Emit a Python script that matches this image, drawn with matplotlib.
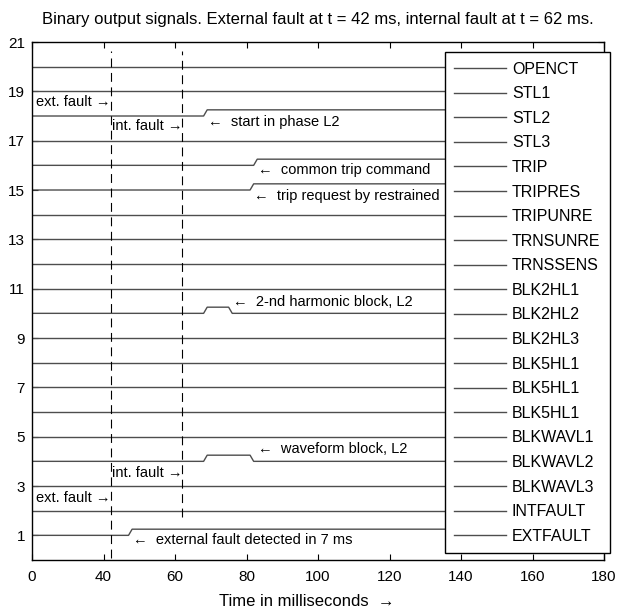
import numpy as np
import matplotlib
matplotlib.use('Agg')
import matplotlib.pyplot as plt

plt.rcParams['font.family'] = ['Liberation Sans', 'DejaVu Sans']
plt.rcParams['font.size'] = 10

# binary output signals, listed top (level 20) to bottom (level 1)
signals = ['OPENCT', 'STL1', 'STL2', 'STL3', 'TRIP', 'TRIPRES', 'TRIPUNRE',
           'TRNSUNRE', 'TRNSSENS', 'BLK2HL1', 'BLK2HL2', 'BLK2HL3',
           'BLK5HL1', 'BLK5HL1', 'BLK5HL1', 'BLKWAVL1', 'BLKWAVL2',
           'BLKWAVL3', 'INTFAULT', 'EXTFAULT']
levels = list(range(20, 0, -1))

# breakpoints in ms and the logic state there (signals not listed stay 0)
flat_t = [20, 180]
flat_v = [0, 0]
stl2_t = [20, 68, 69, 180]
stl2_v = [0, 0, 1, 1]
trip_t = [20, 82, 83, 180]
trip_v = [0, 0, 1, 1]
tripres_t = [20, 81, 82, 180]
tripres_v = [0, 0, 1, 1]
blk2hl2_t = [20, 68, 69, 75, 76, 180]
blk2hl2_v = [0, 0, 1, 1, 0, 0]
blkwavl2_t = [20, 68, 69, 81, 82, 180]
blkwavl2_v = [0, 0, 1, 1, 0, 0]
extfault_t = [20, 47, 48, 180]
extfault_v = [0, 0, 1, 1]

active = {2: (stl2_t, stl2_v), 4: (trip_t, trip_v), 5: (tripres_t, tripres_v),
          10: (blk2hl2_t, blk2hl2_v), 16: (blkwavl2_t, blkwavl2_v),
          19: (extfault_t, extfault_v)}
step = 0.25

# fault instants (ms) and the y-extent of the dashed markers
fault_t = [42, 62]
fault_y0 = [0.1, 1.75]
fault_y1 = [20.65, 20.65]

# annotations: (x, y, text, alignment)
notes = [
    (42, 18.55, 'ext. fault →', 'right'),
    (62, 17.6, 'int. fault →', 'right'),
    (69.2, 17.75, '←  start in phase L2', 'left'),
    (83.3, 15.8, '←  common trip command', 'left'),
    (82.0, 14.75, '←  trip request by restrained', 'left'),
    (76.2, 10.47, '←  2-nd harmonic block, L2', 'left'),
    (83.2, 4.5, '←  waveform block, L2', 'left'),
    (62, 3.53, 'int. fault →', 'right'),
    (42, 2.51, 'ext. fault →', 'right'),
    (48.2, 0.81, '←  external fault detected in 7 ms', 'left'),
]

xticks = [20, 40, 60, 80, 100, 120, 140, 160, 180]
xticklabels = ['0', '40', '60', '80', '100', '120', '140', '160', '180']
yticks = [1, 3, 5, 7, 9, 11, 13, 15, 17, 19, 21]

fig = plt.figure(figsize=(6.19, 6.15), dpi=100)
ax = fig.add_axes([0.0517, 0.0894, 0.9241, 0.8423])

for i, (name, lvl) in enumerate(zip(signals, levels)):
    t, v = active.get(i, (flat_t, flat_v))
    ax.plot(t, lvl + step * np.array(v), color='#4d4d4d', lw=1.0, label=name)

for x, y0, y1 in zip(fault_t, fault_y0, fault_y1):
    ax.plot([x, x], [y0, y1], color='black', lw=0.8, dashes=(8, 5))

for x, y, s, ha in notes:
    ax.text(x, y, s, ha=ha, va='center', fontsize=10.5)

ax.set_xlim(20, 180)
ax.set_ylim(0, 21)
ax.set_xticks(xticks)
ax.set_xticklabels(xticklabels)
ax.set_yticks(yticks)
ax.tick_params(direction='in', top=True, right=True, length=4, width=0.8,
               labelsize=11)
ax.tick_params(axis='x', pad=7)
ax.tick_params(axis='y', pad=5)
for sp in ax.spines.values():
    sp.set_linewidth(1.0)

ax.set_title('Binary output signals. External fault at t = 42 ms, '
             'internal fault at t = 62 ms.', fontsize=12, pad=13)
ax.set_xlabel('Time in milliseconds  →', fontsize=12, labelpad=8)
ax.xaxis.set_label_coords(0.481, -0.065)

leg = ax.legend(loc='upper right', bbox_to_anchor=(0.9855, 0.9154),
                bbox_transform=fig.transFigure, borderaxespad=0,
                fancybox=False, edgecolor='black', framealpha=1,
                handlelength=3.2, handletextpad=0.4, labelspacing=0.60,
                borderpad=0.6, fontsize=11.5)
leg.get_frame().set_linewidth(1.0)

fig.savefig('out.png', dpi=100)
